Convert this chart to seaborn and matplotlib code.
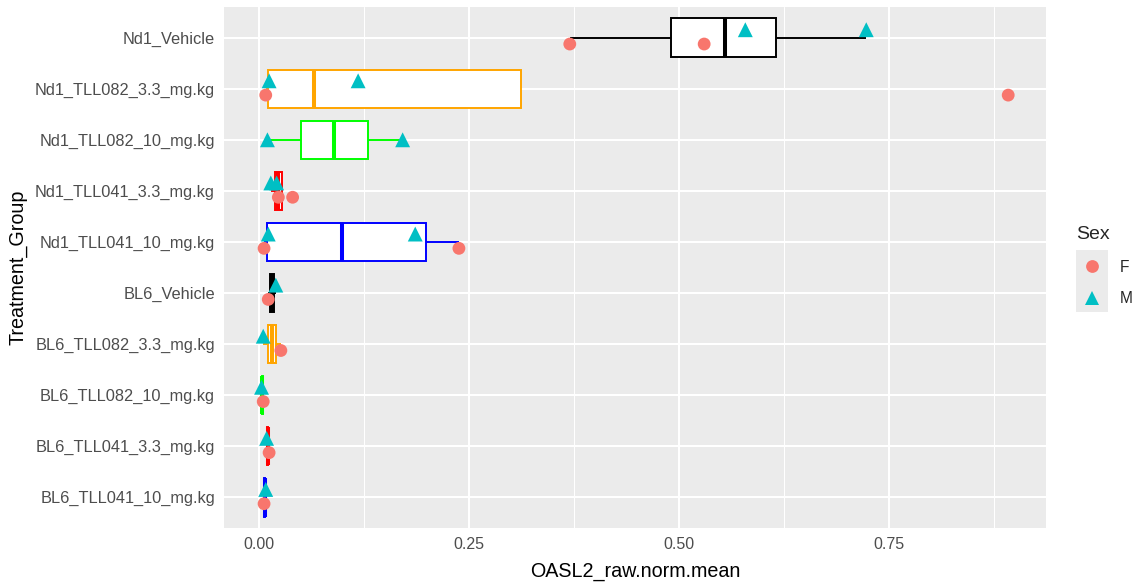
import numpy as np
import pandas as pd
import matplotlib
matplotlib.use("Agg")
import matplotlib.pyplot as plt
from matplotlib.lines import Line2D
from matplotlib.patches import Rectangle
from matplotlib.ticker import MultipleLocator, FormatStrFormatter
import seaborn as sns

# ---------------- data ----------------
groups = ["Nd1_Vehicle", "Nd1_TLL082_3.3_mg.kg", "Nd1_TLL082_10_mg.kg",
          "Nd1_TLL041_3.3_mg.kg", "Nd1_TLL041_10_mg.kg", "BL6_Vehicle",
          "BL6_TLL082_3.3_mg.kg", "BL6_TLL082_10_mg.kg",
          "BL6_TLL041_3.3_mg.kg", "BL6_TLL041_10_mg.kg"]
box_colors = ["black", "orange", "#00FF00", "red", "blue",
              "black", "orange", "#00FF00", "red", "blue"]

female_group = ["Nd1_Vehicle", "Nd1_Vehicle",
                "Nd1_TLL082_3.3_mg.kg", "Nd1_TLL082_3.3_mg.kg",
                "Nd1_TLL041_3.3_mg.kg", "Nd1_TLL041_3.3_mg.kg",
                "Nd1_TLL041_10_mg.kg", "Nd1_TLL041_10_mg.kg",
                "BL6_Vehicle", "BL6_TLL082_3.3_mg.kg", "BL6_TLL082_10_mg.kg",
                "BL6_TLL041_3.3_mg.kg", "BL6_TLL041_10_mg.kg"]
female_value = [0.370, 0.530,
                0.008, 0.892,
                0.023, 0.040,
                0.006, 0.238,
                0.011, 0.026, 0.005,
                0.012, 0.006]

male_group = ["Nd1_Vehicle", "Nd1_Vehicle",
              "Nd1_TLL082_3.3_mg.kg", "Nd1_TLL082_3.3_mg.kg",
              "Nd1_TLL082_10_mg.kg", "Nd1_TLL082_10_mg.kg",
              "Nd1_TLL041_3.3_mg.kg", "Nd1_TLL041_3.3_mg.kg",
              "Nd1_TLL041_10_mg.kg", "Nd1_TLL041_10_mg.kg",
              "BL6_Vehicle", "BL6_TLL082_3.3_mg.kg", "BL6_TLL082_10_mg.kg",
              "BL6_TLL041_3.3_mg.kg", "BL6_TLL041_10_mg.kg"]
male_value = [0.579, 0.723,
              0.012, 0.118,
              0.010, 0.171,
              0.014, 0.021,
              0.011, 0.186,
              0.020, 0.005, 0.003,
              0.009, 0.008]

# value included in the box statistics but without a drawn point (Sex missing)
unplotted_group = ["Nd1_TLL082_10_mg.kg"]
unplotted_value = [0.089]

sex_colors = {"F": "#F8766D", "M": "#00BFC4"}
sex_markers = {"F": "o", "M": "^"}

# ---------------- build table ----------------
df = pd.concat([
    pd.DataFrame({"Treatment_Group": female_group, "value": female_value, "Sex": "F"}),
    pd.DataFrame({"Treatment_Group": male_group, "value": male_value, "Sex": "M"}),
    pd.DataFrame({"Treatment_Group": unplotted_group, "value": unplotted_value, "Sex": "NA"}),
], ignore_index=True)

# ---------------- style ----------------
sns.set_style("darkgrid", {"axes.facecolor": "#EBEBEB", "grid.color": "white"})
plt.rcParams["font.family"] = ["Liberation Sans", "DejaVu Sans"]

W, H = 1141, 582
fig = plt.figure(figsize=(W / 100, H / 100), dpi=100)
ax = fig.add_axes([224 / W, 1 - 528 / H, (1046 - 224) / W, (528 - 7) / H])

# ---------------- boxes ----------------
for g, c in zip(groups, box_colors):
    sub = df[df["Treatment_Group"] == g]
    sns.boxplot(data=sub, x="value", y="Treatment_Group", order=groups, orient="h",
                color="white", linecolor=c, linewidth=1.4, width=0.75, whis=1.5,
                saturation=1, showcaps=False, showfliers=False,
                medianprops={"color": c, "linewidth": 2.9},
                ax=ax)

# ---------------- points (dodged by Sex) ----------------
pts = df[df["Sex"].isin(["F", "M"])].copy()
n_sex = pts.groupby("Treatment_Group")["Sex"].nunique()
dodge = {"F": 0.125, "M": -0.155}
pts["ypos"] = [groups.index(g) + (dodge[s] if n_sex[g] > 1 else 0.0)
               for g, s in zip(pts["Treatment_Group"], pts["Sex"])]
sns.scatterplot(data=pts, x="value", y="ypos", hue="Sex", style="Sex",
                markers=sex_markers, palette=sex_colors,
                size="Sex", sizes={"F": 85, "M": 115},
                linewidth=0, legend=False, zorder=4, ax=ax)

# ---------------- axes ----------------
ax.set_ylim(9.6, -0.6)
ax.set_xlim(-0.0417, 0.937)
ax.set_yticks(range(len(groups)))
ax.set_yticklabels(groups)
ax.set_xticks([0, 0.25, 0.5, 0.75])
ax.xaxis.set_major_formatter(FormatStrFormatter("%.2f"))
ax.xaxis.set_minor_locator(MultipleLocator(0.125))
ax.set_axisbelow(True)
ax.grid(True, which="major", color="white", linewidth=1.45)
ax.grid(True, which="minor", axis="x", color="white", linewidth=0.75)
for s in ax.spines.values():
    s.set_visible(False)
ax.tick_params(which="major", length=4, width=1.0, color="#333333",
               labelcolor="#4D4D4D", pad=2.5)
ax.tick_params(axis="y", labelsize=11.8)
ax.tick_params(axis="x", labelsize=11.5)
ax.tick_params(which="minor", length=0)
ax.set_xlabel("OASL2_raw.norm.mean", fontsize=14.2, color="black", labelpad=7)
ax.set_ylabel("Treatment_Group", fontsize=14.2, color="black", labelpad=5)

# ---------------- legend ----------------
fig.patches.append(Rectangle((1076 / W, 1 - 312 / H), 32 / W, 62 / H,
                             transform=fig.transFigure, facecolor="#EBEBEB",
                             edgecolor="none", zorder=0))
handles = [Line2D([], [], linestyle="none", marker=sex_markers[k],
                  markerfacecolor=sex_colors[k], markeredgewidth=0,
                  markersize=9.2 if k == "F" else 10.7) for k in ["F", "M"]]
leg = fig.legend(handles, ["F", "M"], title="Sex", loc="upper left",
                 bbox_to_anchor=(1076 / W, 1 - 226 / H), frameon=False,
                 fontsize=11.2, title_fontsize=14, borderpad=0, borderaxespad=0,
                 handlelength=2.09, handletextpad=0.72, labelspacing=1.07,
                 alignment="left")

fig.savefig("out.png", dpi=100)
